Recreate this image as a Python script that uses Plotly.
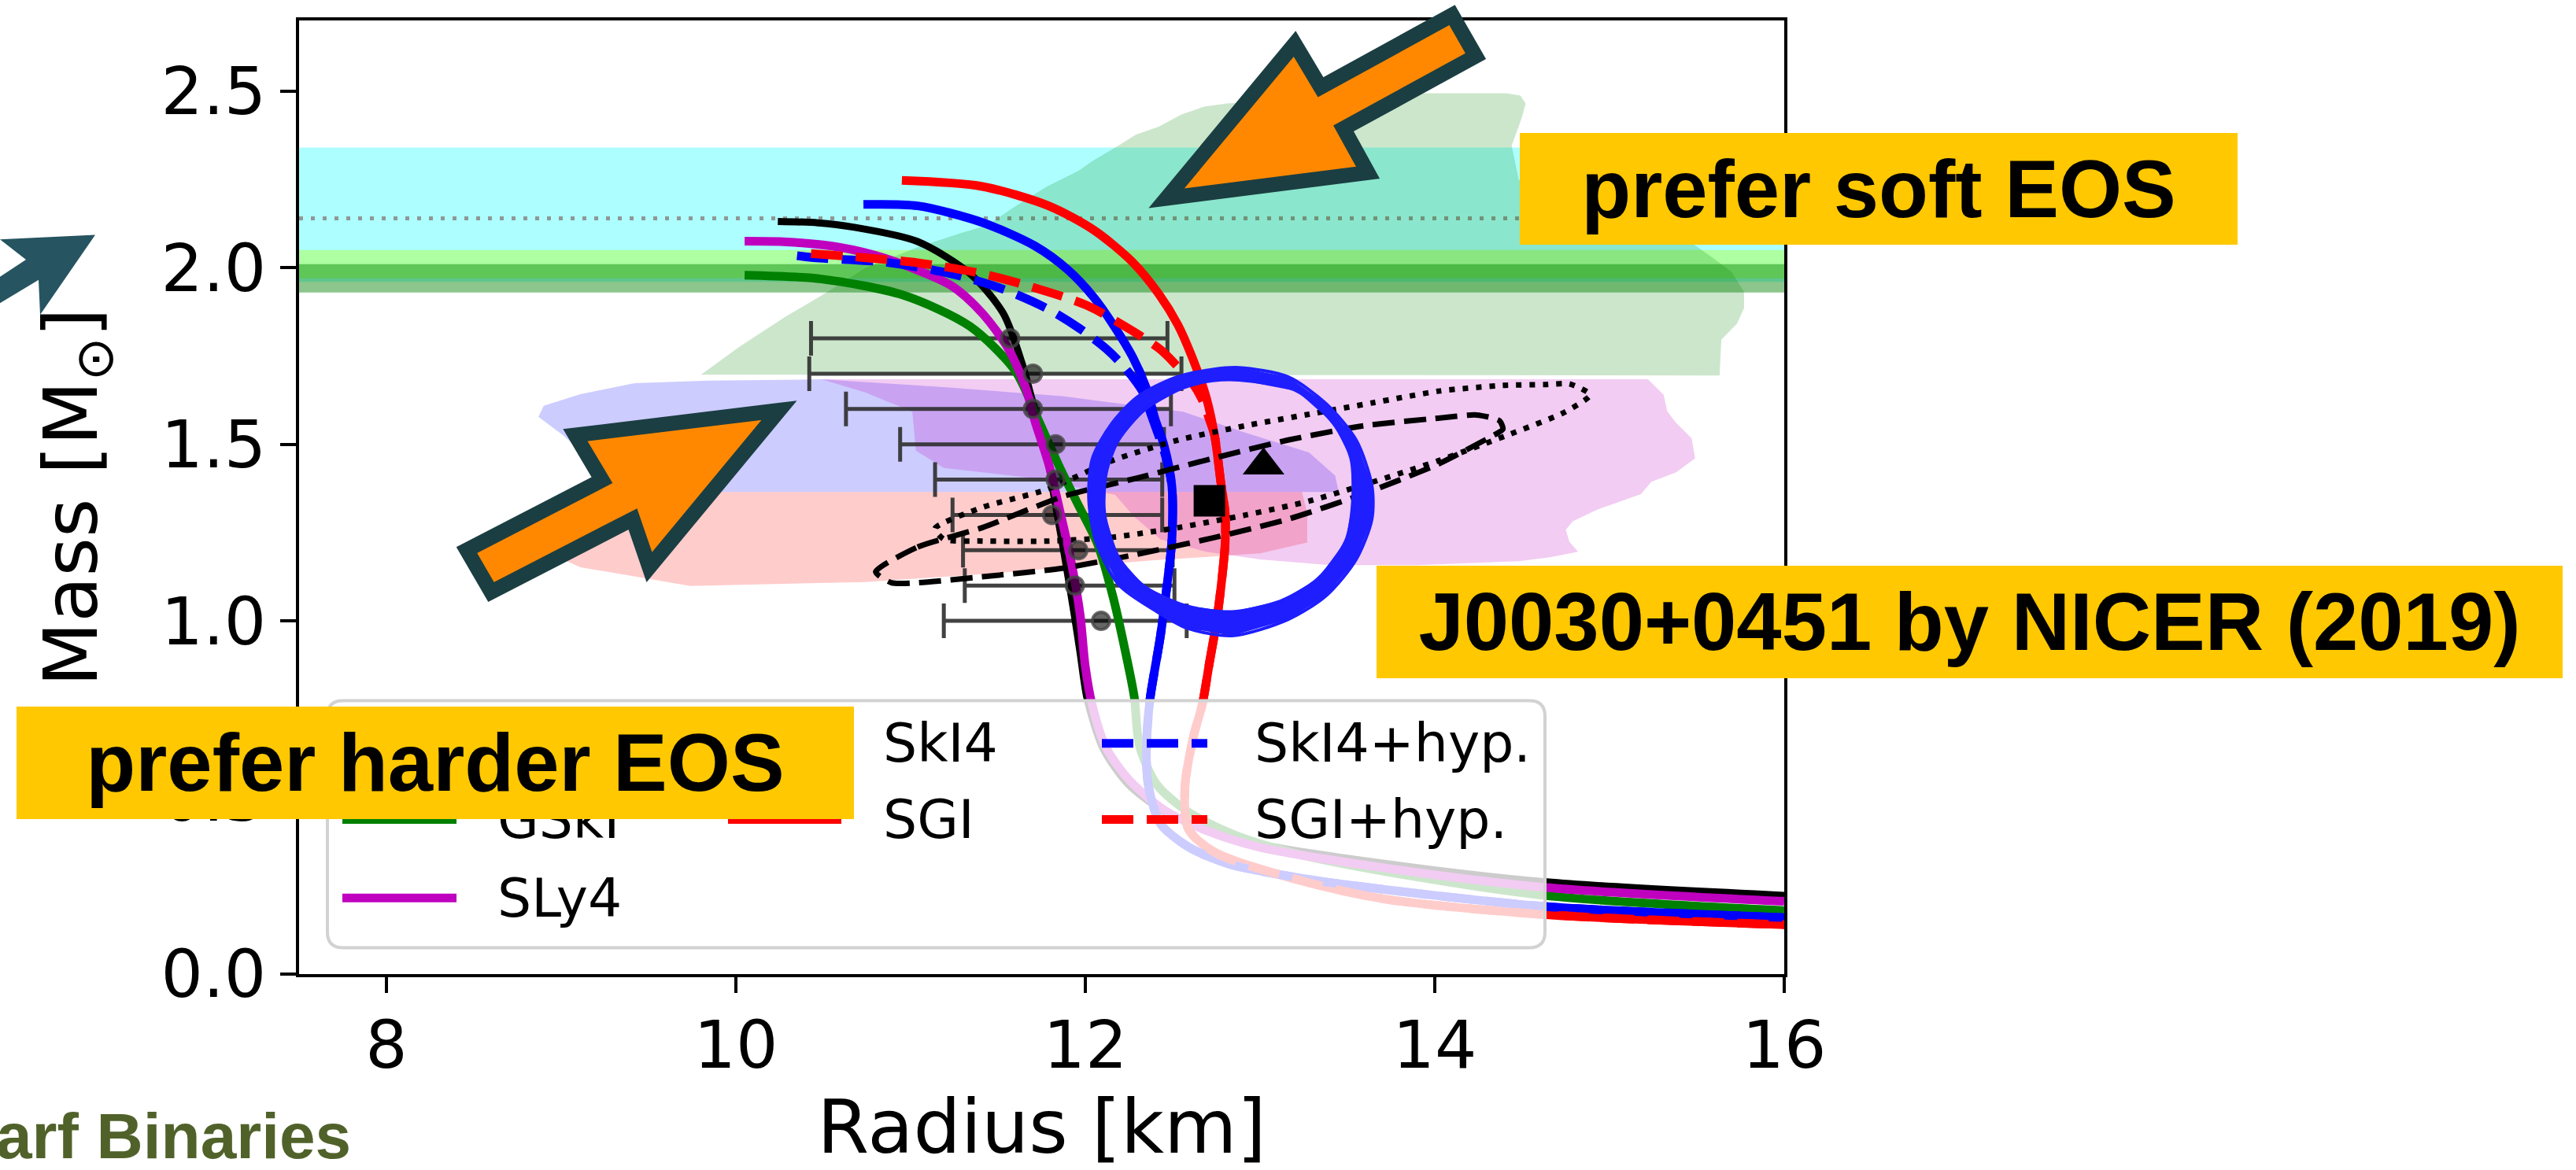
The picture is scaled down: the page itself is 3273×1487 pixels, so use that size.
import plotly.graph_objects as go

# ---------------- canvas geometry ----------------
W, H = 3273, 1487
ML, MR, MT, MB = 380, 1006, 26, 233
PW, PH = W - ML - MR, H - MT - MB


def to_paper(px, py):
    """Canvas pixel -> paper fraction (for decorations and call-outs)."""
    return (px - ML) / PW, (H - MB - py) / PH


# ---------------- mass-radius relations (R [km], M [Msun]) ----------------
skmp_R = [10.24, 10.47, 10.67, 11.04, 11.34, 11.53, 11.64, 11.69, 11.77, 11.82, 11.88, 11.94,
          11.97, 12.01, 12.10, 12.24, 12.45, 12.70, 12.98, 13.72, 14.64, 16.0]
skmp_M = [2.131, 2.127, 2.115, 2.074, 1.983, 1.871, 1.726, 1.636, 1.502, 1.354, 1.187, 1.007,
          0.910, 0.780, 0.640, 0.540, 0.460, 0.410, 0.370, 0.313, 0.261, 0.223]

gski_R = [10.05, 10.49, 10.96, 11.34, 11.60, 11.73, 11.85, 11.96, 12.07, 12.16, 12.23, 12.28,
          12.31, 12.41, 12.59, 12.86, 13.23, 13.72, 14.64, 16.0]
gski_M = [1.979, 1.968, 1.922, 1.834, 1.707, 1.570, 1.438, 1.328, 1.218, 1.065, 0.911, 0.785,
          0.646, 0.536, 0.459, 0.393, 0.338, 0.290, 0.222, 0.180]

sly4_R = [10.05, 10.29, 10.59, 10.85, 11.23, 11.41, 11.56, 11.66, 11.71, 11.79, 11.86, 11.92,
          11.97, 12.00, 12.04, 12.12, 12.25, 12.45, 12.70, 12.99, 13.72, 14.64, 16.0]
sly4_M = [2.075, 2.073, 2.058, 2.027, 1.950, 1.871, 1.770, 1.658, 1.568, 1.444, 1.299, 1.165,
          1.018, 0.870, 0.760, 0.640, 0.550, 0.465, 0.405, 0.360, 0.300, 0.245, 0.206]

ski4_R = [10.73, 11.04, 11.41, 11.71, 11.90, 12.05, 12.16, 12.27, 12.35, 12.40, 12.45, 12.495,
          12.495, 12.47, 12.43, 12.39, 12.37, 12.35, 12.36, 12.43, 12.59, 12.82, 13.23, 13.72,
          14.64, 16.0]
ski4_M = [2.179, 2.175, 2.128, 2.062, 1.994, 1.915, 1.838, 1.748, 1.658, 1.570, 1.498, 1.383,
          1.227, 1.112, 0.958, 0.841, 0.778, 0.646, 0.536, 0.426, 0.360, 0.312, 0.272, 0.239,
          0.191, 0.160]

sgi_R = [10.95, 11.41, 11.79, 12.05, 12.27, 12.42, 12.53, 12.61, 12.69, 12.74, 12.775, 12.80,
         12.80, 12.78, 12.75, 12.71, 12.67, 12.62, 12.57, 12.59, 12.74, 13.23, 13.72, 14.64, 16.0]
sgi_M = [2.247, 2.230, 2.175, 2.106, 2.016, 1.926, 1.838, 1.748, 1.636, 1.524, 1.394, 1.306,
         1.218, 1.112, 0.995, 0.881, 0.765, 0.675, 0.529, 0.411, 0.345, 0.265, 0.212, 0.168, 0.140]

ski4h_R = [10.35, 10.48, 10.85, 11.23, 11.53, 11.79, 11.97, 12.12, 12.23, 12.33, 12.38, 12.42,
           12.45, 12.495, 12.495, 12.47, 12.43, 12.39, 12.37, 12.35, 12.36, 12.43, 12.59, 12.82,
           13.23, 13.72, 14.64, 16.0]
ski4h_M = [2.034, 2.027, 2.016, 1.983, 1.939, 1.882, 1.827, 1.770, 1.715, 1.647, 1.579, 1.524,
           1.482, 1.383, 1.227, 1.112, 0.958, 0.841, 0.778, 0.646, 0.536, 0.426, 0.360, 0.312,
           0.272, 0.239, 0.191, 0.160]

sgih_R = [10.43, 10.67, 11.04, 11.41, 11.71, 12.01, 12.28, 12.43, 12.53, 12.61, 12.67, 12.71,
          12.74, 12.775, 12.80, 12.80, 12.78, 12.75, 12.71, 12.67, 12.62, 12.57, 12.59, 12.74,
          13.23, 13.72, 14.64, 16.0]
sgih_M = [2.040, 2.031, 2.014, 1.983, 1.943, 1.893, 1.818, 1.768, 1.719, 1.675, 1.625, 1.570,
          1.524, 1.394, 1.306, 1.218, 1.112, 0.995, 0.881, 0.765, 0.675, 0.529, 0.411, 0.345,
          0.265, 0.212, 0.168, 0.140]

# ---------------- radius constraints with error bars ----------------
eb_M = [1.8, 1.7, 1.6, 1.5, 1.4, 1.3, 1.2, 1.1, 1.0]
eb_R = [11.57, 11.70, 11.70, 11.83, 11.83, 11.81, 11.96, 11.94, 12.09]
eb_lo = [10.43, 10.42, 10.63, 10.94, 11.14, 11.24, 11.30, 11.31, 11.19]
eb_hi = [12.47, 12.55, 12.49, 12.45, 12.44, 12.44, 12.50, 12.51, 12.58]

# ---------------- NICER J0030+0451 ----------------
riley_R, riley_M = [12.71], [1.34]
miller_R, miller_M = [13.02], [1.44]

dash_R = [10.80, 11.04, 11.41, 11.87, 12.30, 12.73, 13.16, 13.59, 14.02, 14.24, 14.37, 14.39,
          14.32, 14.02, 13.59, 13.16, 12.73, 12.30, 11.87, 11.41, 11.04, 10.89, 10.80]
dash_M = [1.139, 1.209, 1.264, 1.352, 1.405, 1.460, 1.512, 1.552, 1.574, 1.583, 1.567, 1.543,
          1.521, 1.444, 1.359, 1.288, 1.235, 1.189, 1.149, 1.125, 1.108, 1.108, 1.139]

dot_R = [11.14, 11.42, 11.78, 12.16, 12.53, 12.91, 13.28, 13.65, 14.03, 14.40, 14.63, 14.77,
         14.89, 14.74, 14.40, 14.03, 13.65, 13.28, 12.91, 12.53, 12.16, 11.79, 11.41, 11.19, 11.14]
dot_M = [1.262, 1.323, 1.372, 1.455, 1.512, 1.552, 1.585, 1.618, 1.651, 1.667, 1.669, 1.671,
         1.640, 1.590, 1.523, 1.455, 1.394, 1.339, 1.299, 1.264, 1.237, 1.226, 1.226, 1.231, 1.262]

ring_out_R = [12.88, 13.16, 13.38, 13.55, 13.64, 13.64, 13.55, 13.38, 13.16, 12.84, 12.58, 12.41,
              12.19, 12.06, 12.02, 12.04, 12.15, 12.30, 12.52, 12.73]
ring_out_M = [1.717, 1.691, 1.614, 1.512, 1.383, 1.288, 1.174, 1.072, 1.004, 0.958, 0.980, 1.026,
              1.103, 1.226, 1.343, 1.459, 1.558, 1.635, 1.690, 1.712]
ring_in_R = [12.88, 13.21, 13.42, 13.52, 13.53, 13.49, 13.33, 13.12, 12.84, 12.58, 12.34, 12.19,
             12.11, 12.12, 12.19, 12.34, 12.56, 12.73]
ring_in_M = [1.682, 1.651, 1.559, 1.460, 1.337, 1.226, 1.119, 1.057, 1.026, 1.042, 1.097, 1.180,
             1.304, 1.420, 1.512, 1.598, 1.660, 1.680]

# ---------------- posterior regions ----------------
gw_R = [9.80, 10.02, 10.28, 10.53, 10.74, 11.04, 11.28, 11.44, 11.59, 11.78, 11.96, 12.04, 12.19,
        12.29, 12.42, 12.55, 12.68, 12.81, 13.07, 13.85, 14.41, 14.49, 14.52, 14.50, 14.48, 14.44,
        14.48, 14.62, 14.98, 15.48, 15.61, 15.70, 15.77, 15.77, 15.73, 15.64, 15.63]
gw_M = [1.697, 1.776, 1.860, 1.933, 1.999, 2.058, 2.097, 2.120, 2.171, 2.230, 2.274, 2.302, 2.346,
        2.377, 2.399, 2.434, 2.456, 2.465, 2.471, 2.494, 2.494, 2.487, 2.465, 2.428, 2.399, 2.346,
        2.250, 2.185, 2.120, 2.067, 2.021, 1.987, 1.932, 1.886, 1.842, 1.796, 1.695]

m1_R = [8.87, 8.90, 9.11, 9.42, 9.84, 10.49, 11.19, 11.87, 12.56, 12.91, 13.28, 13.43, 13.45,
        9.35, 9.21, 9.01]
m1_M = [1.578, 1.609, 1.642, 1.673, 1.680, 1.684, 1.662, 1.636, 1.592, 1.534, 1.477, 1.411, 1.365,
        1.365, 1.438, 1.526]

m2_R = [9.21, 13.24, 13.27, 13.27, 13.00, 12.38, 11.41, 10.74, 9.74, 9.11, 8.96, 8.95, 9.03]
m2_M = [1.365, 1.365, 1.306, 1.222, 1.191, 1.171, 1.132, 1.110, 1.099, 1.152, 1.185, 1.240, 1.317]

mx_R = [10.49, 15.22, 15.31, 15.33, 15.38, 15.47, 15.49, 15.38, 15.24, 15.18, 14.93, 14.79, 14.75,
        14.77, 14.82, 14.66, 14.48, 13.90, 13.40, 13.00, 12.69, 12.43, 12.28, 12.17, 11.65, 11.19,
        11.03, 11.01, 10.74]
mx_M = [1.684, 1.684, 1.640, 1.594, 1.561, 1.517, 1.460, 1.420, 1.394, 1.359, 1.315, 1.282, 1.258,
        1.224, 1.196, 1.180, 1.169, 1.158, 1.158, 1.174, 1.196, 1.231, 1.295, 1.357, 1.407, 1.433,
        1.482, 1.592, 1.647]

# ---------------- pulsar mass measurements (horizontal bands) ----------------
band_lo = [1.96, 1.97, 1.93]
band_hi = [2.34, 2.05, 2.01]
band_col = ["rgba(0,255,255,0.32)", "rgba(173,255,47,0.45)", "rgba(0,128,0,0.45)"]
j0740_M = 2.14

# ---------------- legend content ----------------
legend_cols = [
    [("SkMP", "black", "solid"), ("GSkI", "green", "solid"), ("SLy4", "#bf00bf", "solid")],
    [("SkI4", "blue", "solid"), ("SGI", "red", "solid")],
    [("SkI4+hyp.", "blue", "dash"), ("SGI+hyp.", "red", "dash")],
]

DASH = "40px,17px"
fig = go.Figure()

# posterior regions
for xs, ys, col in [(gw_R, gw_M, "rgba(0,128,0,0.2)"),
                    (m1_R, m1_M, "rgba(0,0,255,0.2)"),
                    (m2_R, m2_M, "rgba(255,0,0,0.2)"),
                    (mx_R, mx_M, "rgba(191,0,191,0.2)")]:
    fig.add_trace(go.Scatter(x=xs, y=ys, mode="lines", fill="toself", fillcolor=col,
                             line=dict(width=0), hoverinfo="skip"))

# error bars (bars first, dots on top of the curves later)
fig.add_trace(go.Scatter(
    x=eb_R, y=eb_M, mode="markers", marker=dict(size=1, color="rgba(0,0,0,0)"),
    error_x=dict(type="data", symmetric=False,
                 array=[h - c for h, c in zip(eb_hi, eb_R)],
                 arrayminus=[c - l for c, l in zip(eb_R, eb_lo)],
                 color="rgba(45,45,45,0.9)", thickness=5, width=22)))

# EOS curves
curve_specs = [
    (skmp_R, skmp_M, "black", 9, "solid"),
    (gski_R, gski_M, "green", 11, "solid"),
    (sly4_R, sly4_M, "#bf00bf", 11, "solid"),
    (ski4_R, ski4_M, "blue", 11, "solid"),
    (sgi_R, sgi_M, "red", 11, "solid"),
    (ski4h_R, ski4h_M, "blue", 11, DASH),
    (sgih_R, sgih_M, "red", 11, DASH),
]
for xs, ys, col, w, dash in curve_specs:
    fig.add_trace(go.Scatter(x=xs, y=ys, mode="lines",
                             line=dict(color=col, width=w, dash=dash, shape="spline", smoothing=0.8)))

# NICER contours
fig.add_trace(go.Scatter(x=dash_R, y=dash_M, mode="lines",
                         line=dict(color="black", width=7, dash="28px,12px", shape="spline", smoothing=0.6)))
fig.add_trace(go.Scatter(x=dot_R, y=dot_M, mode="lines",
                         line=dict(color="black", width=7, dash="7px,10px", shape="spline", smoothing=0.6)))

# highlighted ring around the NICER region
ring_R = ring_out_R + [ring_out_R[0]] + ring_in_R[::-1] + [ring_in_R[-1]]
ring_M = ring_out_M + [ring_out_M[0]] + ring_in_M[::-1] + [ring_in_M[-1]]
fig.add_trace(go.Scatter(x=ring_R, y=ring_M, mode="lines", fill="toself",
                         fillcolor="rgb(30,30,255)", line=dict(width=0)))
for xs, ys in [(ring_out_R + ring_out_R[:1], ring_out_M + ring_out_M[:1]),
               (ring_in_R + ring_in_R[:1], ring_in_M + ring_in_M[:1])]:
    fig.add_trace(go.Scatter(x=xs, y=ys, mode="lines",
                             line=dict(color="rgb(30,30,255)", width=4, shape="spline", smoothing=0.8)))

# NICER best-fit points
fig.add_trace(go.Scatter(x=riley_R, y=riley_M, mode="markers",
                         marker=dict(symbol="square", size=40, color="black")))
fig.add_trace(go.Scatter(x=miller_R, y=miller_M, mode="markers",
                         marker=dict(symbol="triangle-up", size=46, color="black")))

# error bar centre dots
fig.add_trace(go.Scatter(x=eb_R, y=eb_M, mode="markers",
                         marker=dict(size=22, color="rgba(0,0,0,0.6)",
                                     line=dict(color="rgba(70,70,70,0.8)", width=4))))

shapes = []
# mass bands and the J0740 central value
for lo, hi, col in zip(band_lo, band_hi, band_col):
    shapes.append(dict(type="rect", xref="paper", yref="y", x0=0, x1=1, y0=lo, y1=hi,
                       fillcolor=col, line=dict(width=0), layer="below"))
shapes.append(dict(type="line", xref="paper", yref="y", x0=0, x1=1, y0=j0740_M, y1=j0740_M,
                   line=dict(color="rgba(140,140,140,0.9)", width=5, dash="5px,10px"), layer="below"))


def poly_path(pts):
    out = []
    for i, (px, py) in enumerate(pts):
        xp, yp = to_paper(px, py)
        out.append(("M" if i == 0 else "L") + f"{xp:.5f},{yp:.5f}")
    return "".join(out) + "Z"


# legend frame (rounded, semi-opaque)
lx0, lx1, ly0, ly1, rad = 416, 1963, 902, 1220, 20
fx0, fy0 = to_paper(lx0, ly0)
fx1, fy1 = to_paper(lx1, ly1)
rx, ry = rad / PW, rad / PH
frame = (f"M{fx0 + rx},{fy0} L{fx1 - rx},{fy0} Q{fx1},{fy0} {fx1},{fy0 - ry} "
         f"L{fx1},{fy1 + ry} Q{fx1},{fy1} {fx1 - rx},{fy1} L{fx0 + rx},{fy1} "
         f"Q{fx0},{fy1} {fx0},{fy1 + ry} L{fx0},{fy0 - ry} Q{fx0},{fy0} {fx0 + rx},{fy0} Z")
shapes.append(dict(type="path", xref="paper", yref="paper", path=frame,
                   fillcolor="rgba(255,255,255,0.8)", line=dict(color="rgb(210,210,210)", width=4),
                   layer="above"))

annotations = []
col_line_x = [(435, 580), (925, 1069), (1400, 1534)]
col_text_x = [630, 1120, 1592]
row_y = [957, 1055, 1156]
for ci, entries in enumerate(legend_cols):
    for ri, (label, col, dash) in enumerate(entries):
        x0p, yp = to_paper(col_line_x[ci][0], row_y[ri])
        x1p, _ = to_paper(col_line_x[ci][1], row_y[ri])
        shapes.append(dict(type="line", xref="paper", yref="paper", x0=x0p, x1=x1p, y0=yp, y1=yp,
                           line=dict(color=col, width=11, dash=DASH if dash == "dash" else "solid"),
                           layer="above"))
        tx, ty = to_paper(col_text_x[ci], row_y[ri])
        annotations.append(dict(x=tx, y=ty, xref="paper", yref="paper", xanchor="left",
                                yanchor="middle", text=label, showarrow=False,
                                font=dict(family="DejaVu Sans", size=68, color="black")))

# call-out arrows
ARROW_FILL, ARROW_EDGE = "rgb(255,136,0)", "rgb(27,62,66)"
soft_arrow = [(1482, 255), (1645, 56), (1678, 112), (1845, 19), (1875, 72), (1707, 165), (1738, 222)]
hard_arrow = [(990, 528), (731, 560), (765, 618), (593, 708), (624, 762), (804, 668), (825, 730)]
for pts in (soft_arrow, hard_arrow):
    shapes.append(dict(type="path", xref="paper", yref="paper", path=poly_path(pts),
                       fillcolor=ARROW_FILL, line=dict(color=ARROW_EDGE, width=19), layer="above"))
side_arrow = [(0, 308), (121, 302), (51, 405), (49, 360), (0, 390), (0, 356), (33, 334)]
shapes.append(dict(type="path", xref="paper", yref="paper", path=poly_path(side_arrow),
                   fillcolor="rgb(38,84,97)", line=dict(width=0), layer="above"))

# highlighted call-out boxes
boxes = [
    ("prefer soft EOS", 1931, 171, 912, 142),
    ("J0030+0451 by NICER (2019)", 1749, 728, 1507, 143),
    ("prefer harder EOS", 21, 910, 1064, 143),
]
for text, bx, by, bw, bh in boxes:
    xp, yp = to_paper(bx, by)
    annotations.append(dict(x=xp, y=yp, xref="paper", yref="paper", xanchor="left", yanchor="top",
                            width=bw, height=bh, bgcolor="#ffc800", borderpad=0, borderwidth=0,
                            align="center", valign="middle", showarrow=False, text=text,
                            font=dict(family="Liberation Sans", size=103, color="black", weight="bold")))

bx, by = to_paper(448, 1462)
annotations.append(dict(x=bx, y=by, xref="paper", yref="paper", xanchor="right", yanchor="middle",
                        text="Dwarf Binaries", showarrow=False,
                        font=dict(family="Liberation Sans", size=82, color="#50622a", weight="bold")))

axis_common = dict(showgrid=False, zeroline=False, showline=True, mirror=True, linecolor="black",
                   linewidth=4, ticks="outside", ticklen=20, tickwidth=4, tickcolor="black",
                   tickfont=dict(family="DejaVu Sans", size=84, color="black"))

fig.update_layout(
    width=W, height=H, margin=dict(l=ML, r=MR, t=MT, b=MB, pad=0),
    paper_bgcolor="white", plot_bgcolor="white", showlegend=False,
    xaxis=dict(range=[7.5, 16], tickvals=[8, 10, 12, 14, 16], ticklabelstandoff=-6,
               title=dict(text="Radius [km]", standoff=32,
                          font=dict(family="DejaVu Sans", size=95, color="black")),
               **axis_common),
    yaxis=dict(range=[0, 2.7], tickvals=[0, 0.5, 1.0, 1.5, 2.0, 2.5], tickformat=".1f",
               ticklabelstandoff=1,
               title=dict(text="Mass [M<sub>⊙</sub>]", standoff=50,
                          font=dict(family="DejaVu Sans", size=95, color="black")),
               **axis_common),
    shapes=shapes, annotations=annotations,
)

fig.write_html("out.html")
